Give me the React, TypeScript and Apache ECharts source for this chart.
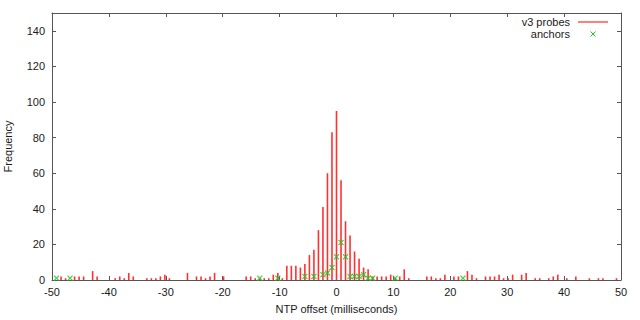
import React, { useEffect, useRef } from "react";
import * as echarts from "echarts";

// Histogram bins: bin index k -> centre k * BIN_WIDTH_MS (ms)
const BIN_WIDTH_MS = 50 / 63;
const FIRST_BIN = -63;

// v3 probes counts for bins -63 .. 63
const probeCounts = [
  0, 0, 2, 1, 0, 2, 2, 2, 0, 5, // -63..-54
  2, 0, 0, 0, 1, 2, 1, 4, 2, 0, // -53..-44
  0, 1, 1, 1, 2, 3, 1, 0, 0, 0, // -43..-34
  4, 0, 2, 2, 1, 2, 4, 0, 2, 0, // -33..-24
  0, 0, 0, 2, 2, 1, 1, 1, 1, 3, // -23..-14
  4, 1, 8, 8, 8, 7, 9, 14, 17, 28, // -13..-4
  41, 60, 83, 95, 56, 33, 25, 16, 12, 7, // -3..6
  6, 2, 2, 2, 2, 3, 1, 2, 6, 1, // 7..16
  0, 0, 0, 2, 2, 1, 1, 3, 0, 2, // 17..26
  2, 0, 5, 3, 1, 0, 2, 2, 2, 3, // 27..36
  1, 1, 3, 0, 3, 4, 0, 1, 1, 0, // 37..46
  1, 2, 3, 0, 1, 0, 2, 0, 0, 1, // 47..56
  0, 1, 1, 0, 0, 1, 0, // 57..63
];

// anchors: bin indices and counts
const anchorBins = [-62, -59, -17, -13, -7, -5, -3, -2, -1, 0, 1, 2, 3, 4, 5, 6, 7, 8, 13, 28];
const anchorCounts = [1, 1, 1, 1, 2, 2, 3, 4, 7, 13, 21, 13, 2, 2, 2, 3, 1, 1, 1, 1];

const X_MIN = -50;
const X_MAX = 50;
const X_STEP = 10;
const Y_MIN = 0;
const Y_MAX = 150;
const Y_STEP = 20;

const FONT = "'Liberation Sans', Arial, sans-serif";
const TEXT = "#1a1a1a";
const AXIS = "#555555";
const RED = "#ff0000";
const BAR_RED = "#ff3030";
const GREEN = "#22c422";
const XSYM =
  "path://M0,1.5L1.5,0L5,3.5L8.5,0L10,1.5L6.5,5L10,8.5L8.5,10L5,6.5L1.5,10L0,8.5L3.5,5Z";

export default function App() {
  const ref = useRef<HTMLDivElement>(null);
  useEffect(() => {
    document.body.style.margin = "0";
    if (!ref.current) return;
    const chart = echarts.init(ref.current, undefined, { renderer: "svg" });
    const probeData = probeCounts.map((c, i) => [(FIRST_BIN + i) * BIN_WIDTH_MS, c]);
    const anchorData = anchorBins.map((b, i) => [b * BIN_WIDTH_MS, anchorCounts[i]]);
    const axisLine = { show: true, onZero: false, lineStyle: { color: AXIS, width: 1 } };
    const axisTick = { show: true, inside: true, length: 4, lineStyle: { color: AXIS, width: 1 } };
    const label = { color: TEXT, fontSize: 11, fontFamily: FONT };
    chart.setOption({
      animation: false,
      textStyle: { fontFamily: FONT },
      grid: { left: 52, right: 19, top: 13, bottom: 40, containLabel: false, outerBoundsMode: "none" },
      xAxis: [
        {
          type: "value",
          min: X_MIN,
          max: X_MAX,
          interval: X_STEP,
          position: "bottom",
          axisLine,
          axisTick,
          axisLabel: { ...label, margin: 6 },
          splitLine: { show: false },
          name: "NTP offset (milliseconds)",
          nameLocation: "middle",
          nameGap: 23,
          nameTextStyle: { ...label },
        },
        {
          type: "value",
          min: X_MIN,
          max: X_MAX,
          interval: X_STEP,
          position: "top",
          axisLine,
          axisTick,
          axisLabel: { show: false },
          splitLine: { show: false },
        },
      ],
      yAxis: [
        {
          type: "value",
          min: Y_MIN,
          max: Y_MAX,
          interval: Y_STEP,
          position: "left",
          axisLine,
          axisTick,
          axisLabel: { ...label, margin: 7, showMaxLabel: false },
          splitLine: { show: false },
          name: "Frequency",
          nameLocation: "middle",
          nameGap: 39,
          nameTextStyle: { ...label },
        },
        {
          type: "value",
          min: Y_MIN,
          max: Y_MAX,
          interval: Y_STEP,
          position: "right",
          axisLine,
          axisTick,
          axisLabel: { show: false },
          splitLine: { show: false },
        },
      ],
      series: [
        {
          type: "bar",
          name: "v3 probes",
          xAxisIndex: 0,
          yAxisIndex: 0,
          data: probeData,
          barWidth: 1.6,
          itemStyle: { color: BAR_RED, borderWidth: 0, borderColor: BAR_RED, opacity: 1 },
          silent: true,
        },
        {
          type: "scatter",
          name: "anchors",
          xAxisIndex: 0,
          yAxisIndex: 0,
          data: anchorData,
          symbol: XSYM,
          symbolSize: 6,
          itemStyle: { color: GREEN, borderWidth: 0 },
          silent: true,
        },
      ],
      graphic: [
        {
          type: "text",
          x: 570,
          y: 22,
          style: { text: "v3 probes", fill: TEXT, font: `11px ${FONT}`, textAlign: "right", textVerticalAlign: "middle" },
        },
        {
          type: "line",
          shape: { x1: 578, y1: 22, x2: 608, y2: 22 },
          style: { stroke: RED, lineWidth: 1 },
        },
        {
          type: "text",
          x: 570,
          y: 34,
          style: { text: "anchors", fill: TEXT, font: `11px ${FONT}`, textAlign: "right", textVerticalAlign: "middle" },
        },
        {
          type: "line",
          shape: { x1: 590.5, y1: 31.5, x2: 595.5, y2: 36.5 },
          style: { stroke: GREEN, lineWidth: 1 },
        },
        {
          type: "line",
          shape: { x1: 595.5, y1: 31.5, x2: 590.5, y2: 36.5 },
          style: { stroke: GREEN, lineWidth: 1 },
        },
      ],
    });
    return () => chart.dispose();
  }, []);
  return (
    <div
      ref={ref}
      style={{ position: "absolute", left: 0, top: 0, width: 640, height: 320, background: "#fff" }}
    />
  );
}
